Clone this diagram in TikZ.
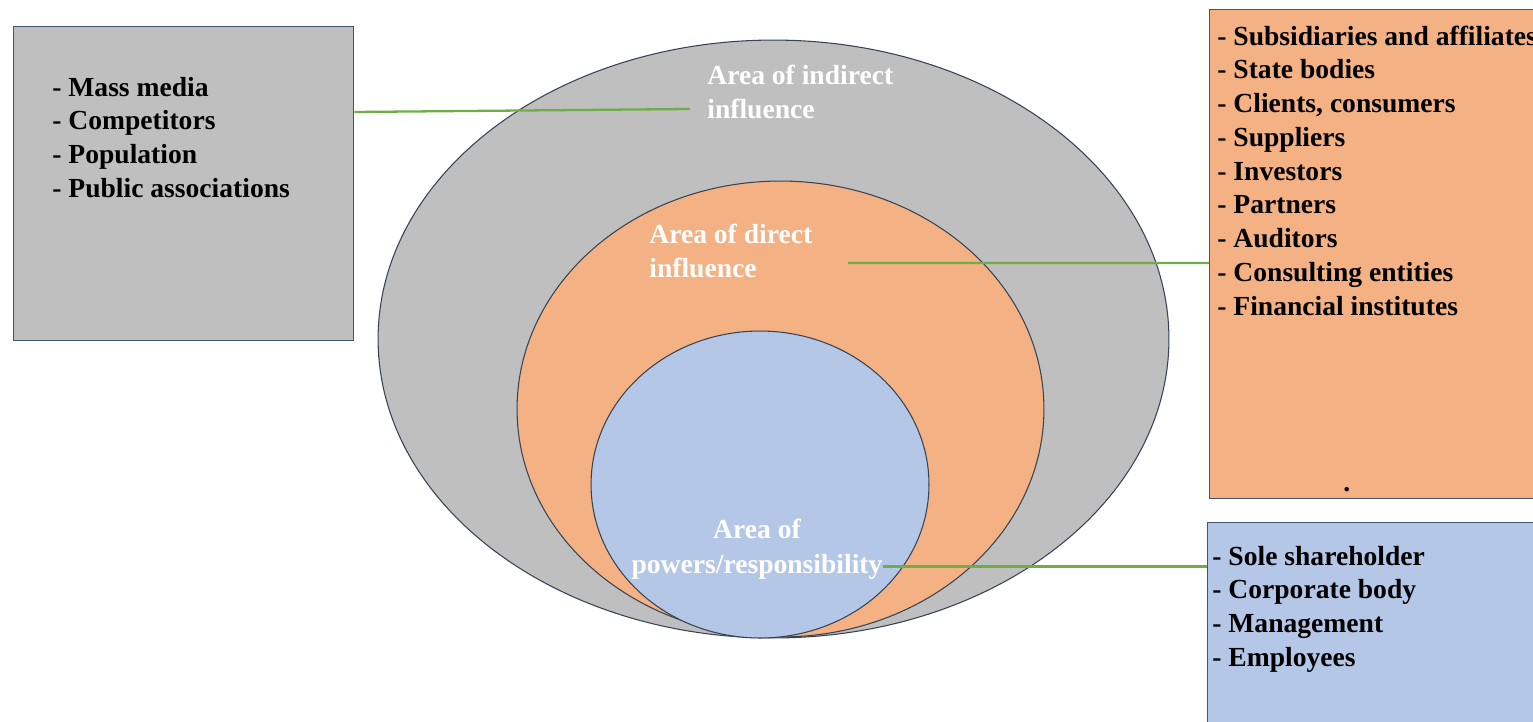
\documentclass[tikz,border=0pt]{standalone}
\usepackage{fontspec}
\setmainfont{Liberation Serif}
\usepackage{tikz}
\usetikzlibrary{shapes.geometric}
\definecolor{areagray}{HTML}{BFBFBF}
\definecolor{areaorange}{HTML}{F4B183}
\definecolor{areablue}{HTML}{B4C7E7}
\definecolor{linkgreen}{HTML}{70AD47}
\definecolor{edgeblue}{HTML}{44546A}

\begin{document}
\begin{tikzpicture}[x=0.02cm,y=-0.02cm,
  listbox/.style={rectangle,draw=edgeblue,line width=0.8pt,anchor=north west,inner sep=0pt},
  area/.style={ellipse,draw=edgeblue!80!black,line width=0.6pt,inner sep=0pt},
  item/.style={anchor=base west,inner sep=0pt,font=\fontsize{15.7}{19}\selectfont\bfseries},
  areatext/.style={item,text=white},
  link/.style={linkgreen,line width=1.3pt}]
\clip (0,0) rectangle (1533,721);
\node[listbox,fill=areagray,minimum width=6.8cm,minimum height=6.28cm] (mediabox) at (13,26) {};
\node[listbox,fill=areaorange,minimum width=6.8cm,minimum height=9.78cm] (clientbox) at (1209,9) {};
\node[listbox,fill=areablue,minimum width=6.9cm,minimum height=4.3cm] (ownerbox) at (1207,522) {};
\node[area,fill=areagray,minimum width=15.82cm,minimum height=11.96cm] (indirect) at (773.5,339) {};
\node[area,fill=areaorange,minimum width=10.54cm,minimum height=9.12cm] (direct) at (780.5,409) {};
\node[area,fill=areablue,minimum width=6.76cm,minimum height=6.14cm] (powers) at (760,484.5) {};
\foreach \t [count=\i from 0] in {Mass media,Competitors,Population,Public associations} {
    \node[item] (media\i) at (52,{96+33.7*\i}) {- \t};
}
\foreach \t [count=\i from 0] in {Subsidiaries and affiliates,State bodies,{Clients, consumers},Suppliers,Investors,Partners,Auditors,Consulting entities,Financial institutes} {
    \node[item] (client\i) at (1217,{45+33.75*\i}) {- \t};
}
\foreach \t [count=\i from 0] in {Sole shareholder,Corporate body,Management,Employees} {
    \node[item] (owner\i) at (1212,{565+33.7*\i}) {- \t};
}
\node[item] (clientdot) at (1343,491) {.};
\node[areatext] (indirect1) at (707,84) {Area of indirect};
\node[areatext] (indirect2) at (707,118) {influence};
\node[areatext] (direct1) at (649,243) {Area of direct};
\node[areatext] (direct2) at (649,277) {influence};
\node[areatext,anchor=base] (powers1) at (757,538) {Area of};
\node[areatext,anchor=base] (powers2) at (757,573) {powers/responsibility};
\coordinate (indirect-tip) at (690,109);
\coordinate (direct-tip) at (848,263);
\draw[link] ([yshift=-1.72cm]mediabox.north east) -- (indirect-tip);
\draw[link] (direct-tip) -- ([yshift=-5.08cm]clientbox.north west);
\draw[link] (powers2.east) -- (powers2.east -| ownerbox.west);
\end{tikzpicture}
\end{document}
